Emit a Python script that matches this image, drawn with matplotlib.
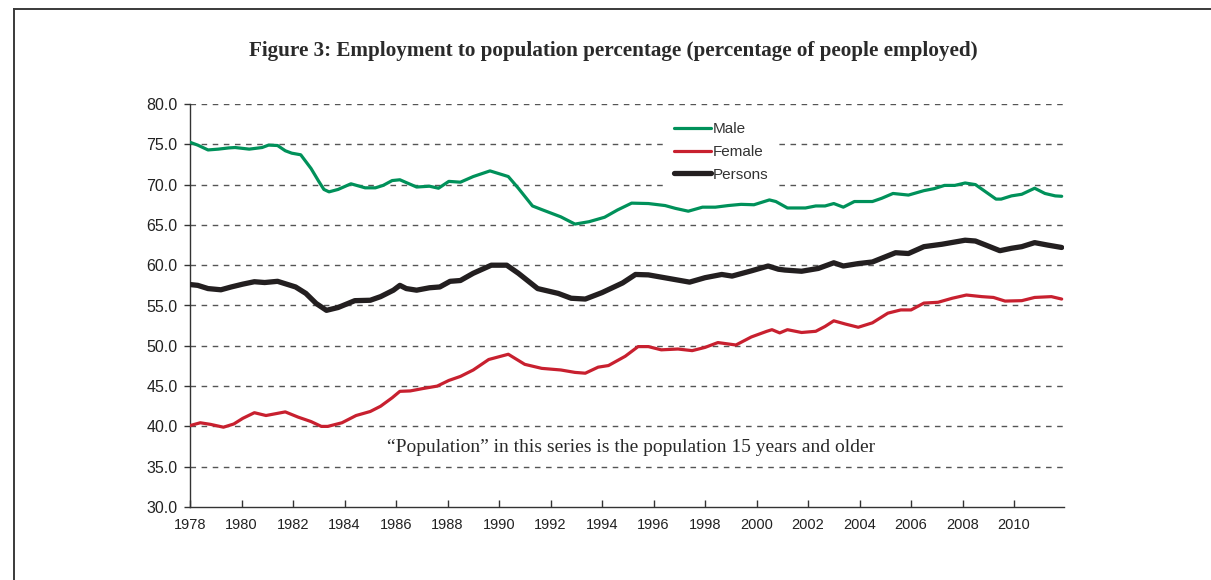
import matplotlib
matplotlib.use("Agg")
import matplotlib.pyplot as plt
from matplotlib.lines import Line2D

# ---- data ----
male_years = [1978.0, 1978.3, 1978.7, 1979.1, 1979.5, 1979.75, 1980.3, 1980.8, 1981.05, 1981.4,
              1981.7, 1981.95, 1982.3, 1982.7, 1983.0, 1983.2, 1983.4, 1983.75, 1984.25, 1984.8,
              1985.2, 1985.5, 1985.85, 1986.15, 1986.4, 1986.8, 1987.3, 1987.65, 1988.05, 1988.5,
              1989.0, 1989.65, 1990.36, 1990.75, 1991.3, 1991.66, 1992.4, 1992.95, 1993.5, 1994.1,
              1994.6, 1995.15, 1995.8, 1996.45, 1996.85, 1997.35, 1997.9, 1998.4, 1998.9, 1999.4,
              1999.9, 2000.5, 2000.75, 2001.2, 2001.9, 2002.3, 2002.66, 2003.0, 2003.37, 2003.8,
              2004.5, 2004.86, 2005.3, 2005.9, 2006.5, 2006.9, 2007.3, 2007.7, 2008.1, 2008.5,
              2008.9, 2009.3, 2009.5, 2009.9, 2010.3, 2010.8, 2011.2, 2011.6, 2011.85]
male = [75.25, 74.9, 74.3, 74.4, 74.55, 74.6, 74.4, 74.6, 74.9, 74.85,
        74.2, 73.9, 73.7, 72.0, 70.4, 69.4, 69.1, 69.4, 70.1, 69.6,
        69.6, 69.9, 70.5, 70.6, 70.25, 69.7, 69.8, 69.55, 70.4, 70.3,
        71.0, 71.7, 71.0, 69.55, 67.35, 66.9, 66.0, 65.1, 65.4, 65.95,
        66.85, 67.7, 67.65, 67.4, 67.05, 66.7, 67.2, 67.2, 67.4, 67.55,
        67.5, 68.1, 67.9, 67.1, 67.1, 67.35, 67.35, 67.65, 67.2, 67.9,
        67.9, 68.3, 68.9, 68.7, 69.25, 69.5, 69.9, 69.9, 70.2, 70.0,
        69.1, 68.2, 68.2, 68.6, 68.8, 69.55, 68.9, 68.6, 68.55]

female_years = [1978.0, 1978.4, 1978.8, 1979.3, 1979.7, 1980.05, 1980.5, 1980.95, 1981.7, 1982.2,
                1982.7, 1983.1, 1983.35, 1983.9, 1984.45, 1985.0, 1985.4, 1985.85, 1986.15, 1986.55,
                1987.05, 1987.6, 1988.05, 1988.5, 1989.0, 1989.6, 1990.36, 1991.0, 1991.66, 1992.4,
                1992.95, 1993.35, 1993.85, 1994.25, 1994.9, 1995.4, 1995.8, 1996.3, 1996.95, 1997.5,
                1998.0, 1998.5, 1999.2, 1999.8, 2000.4, 2000.6, 2000.9, 2001.2, 2001.75, 2002.3,
                2002.66, 2003.0, 2003.45, 2003.95, 2004.5, 2005.1, 2005.6, 2006.0, 2006.5, 2007.05,
                2007.6, 2008.15, 2008.75, 2009.2, 2009.65, 2010.3, 2010.8, 2011.45, 2011.85]
female = [40.1, 40.45, 40.25, 39.9, 40.3, 41.0, 41.7, 41.35, 41.8, 41.15,
          40.6, 40.0, 40.0, 40.45, 41.35, 41.85, 42.5, 43.55, 44.35, 44.4,
          44.7, 45.0, 45.7, 46.2, 47.0, 48.3, 48.95, 47.7, 47.2, 47.0,
          46.7, 46.6, 47.35, 47.55, 48.7, 49.9, 49.9, 49.5, 49.6, 49.4,
          49.8, 50.4, 50.1, 51.1, 51.8, 52.0, 51.6, 52.0, 51.65, 51.8,
          52.4, 53.1, 52.7, 52.3, 52.85, 54.05, 54.45, 54.45, 55.3, 55.4,
          55.9, 56.3, 56.1, 56.0, 55.55, 55.6, 56.0, 56.1, 55.8]

persons_years = [1978.0, 1978.3, 1978.7, 1979.2, 1979.6, 1980.05, 1980.5, 1980.9, 1981.4, 1981.7,
                 1982.1, 1982.5, 1982.9, 1983.3, 1983.75, 1984.4, 1985.0, 1985.4, 1985.9, 1986.15,
                 1986.4, 1986.8, 1987.3, 1987.7, 1988.1, 1988.5, 1989.0, 1989.7, 1990.3, 1990.75,
                 1991.5, 1992.3, 1992.8, 1993.35, 1994.0, 1994.8, 1995.3, 1995.8, 1996.6, 1997.4,
                 1998.0, 1998.65, 1999.05, 1999.8, 2000.45, 2000.85, 2001.1, 2001.75, 2002.4, 2003.0,
                 2003.37, 2003.95, 2004.5, 2005.4, 2005.9, 2006.5, 2007.2, 2008.1, 2008.5, 2008.9,
                 2009.45, 2009.9, 2010.3, 2010.8, 2011.3, 2011.85]
persons = [57.6, 57.5, 57.1, 56.95, 57.3, 57.65, 57.95, 57.85, 58.0, 57.7,
           57.3, 56.5, 55.25, 54.4, 54.75, 55.6, 55.65, 56.1, 56.9, 57.5,
           57.1, 56.9, 57.2, 57.3, 58.0, 58.1, 59.0, 60.0, 60.0, 59.0,
           57.1, 56.5, 55.9, 55.8, 56.6, 57.8, 58.85, 58.8, 58.35, 57.9,
           58.45, 58.85, 58.65, 59.3, 59.9, 59.5, 59.4, 59.25, 59.6, 60.3,
           59.9, 60.2, 60.4, 61.55, 61.45, 62.3, 62.6, 63.1, 63.0, 62.5,
           61.8, 62.1, 62.3, 62.8, 62.5, 62.2]

x_ticks = list(range(1978, 2011, 2))
y_ticks = [30, 35, 40, 45, 50, 55, 60, 65, 70, 75, 80]
series_labels = ["Male", "Female", "Persons"]
title_text = "Figure 3: Employment to population percentage (percentage of people employed)"
note_text = "\u201cPopulation\u201d in this series is the population 15 years and older"

# ---- figure ----
W, H = 1211, 580
fig = plt.figure(figsize=(W / 100, H / 100), dpi=100)
fig.patch.set_facecolor("white")

# outer frame (top and left)
fig.add_artist(Line2D([14 / W, 14 / W], [0, 1 - 9 / H], transform=fig.transFigure,
                      color="#3a3a3a", lw=1.4))
fig.add_artist(Line2D([14 / W, 1], [1 - 9 / H, 1 - 9 / H], transform=fig.transFigure,
                      color="#3a3a3a", lw=1.4))

ax = fig.add_axes([190 / W, 1 - 507 / H, (1064 - 190) / W, (507 - 104) / H])
ax.set_xlim(1978, 2011.94)
ax.set_ylim(30, 80)

for v in y_ticks[1:]:
    ax.axhline(v, color="#555555", lw=1.0, ls=(0, (4, 4)), zorder=1)

green = "#00915A"
red = "#C8202F"
black = "#231F20"
ax.plot(male_years, male, color=green, lw=2.3, label=series_labels[0], zorder=3,
        solid_joinstyle="round", solid_capstyle="round")
ax.plot(female_years, female, color=red, lw=2.3, label=series_labels[1], zorder=3,
        solid_joinstyle="round", solid_capstyle="round")
ax.plot(persons_years, persons, color=black, lw=3.8, label=series_labels[2], zorder=4,
        solid_joinstyle="round", solid_capstyle="round")

for s in ["top", "right"]:
    ax.spines[s].set_visible(False)
for s in ["left", "bottom"]:
    ax.spines[s].set_color("#333333")
    ax.spines[s].set_linewidth(1.0)

ax.set_yticks(y_ticks)
ax.set_yticklabels([f"{v:.1f}" for v in y_ticks], fontsize=11.5, family="Liberation Sans",
                   color="#222222")
ax.set_xticks(x_ticks)
ax.set_xticklabels([str(v) for v in x_ticks], fontsize=10.5, family="Liberation Sans",
                   color="#222222")
ax.tick_params(axis="y", direction="out", length=4, width=1, color="#333333", pad=5)
ax.tick_params(axis="x", direction="in", length=5, width=1, color="#333333", pad=8)

leg = ax.legend(loc="upper left", bbox_to_anchor=(668 / W, 1 - 116 / H),
                bbox_transform=fig.transFigure, frameon=True, fancybox=False,
                borderaxespad=0, handlelength=2.4, handletextpad=0.15,
                labelspacing=0.58, borderpad=0.4,
                prop={"family": "Liberation Sans", "size": 11})
leg.get_frame().set_facecolor("white")
leg.get_frame().set_edgecolor("none")
leg.get_frame().set_alpha(1)
for t in leg.get_texts():
    t.set_color("#333333")
leg.set_zorder(5)

fig.text(613 / W, 1 - 51 / H, title_text, ha="center", va="center",
         fontsize=15.2, fontweight="bold", family="Liberation Serif", color="#2a2a2a")

ax.text(1995.13, 37.44, note_text, ha="center", va="center", fontsize=14,
        family="Liberation Serif", color="#2a2a2a", zorder=6)

fig.savefig("out.png", dpi=100)
